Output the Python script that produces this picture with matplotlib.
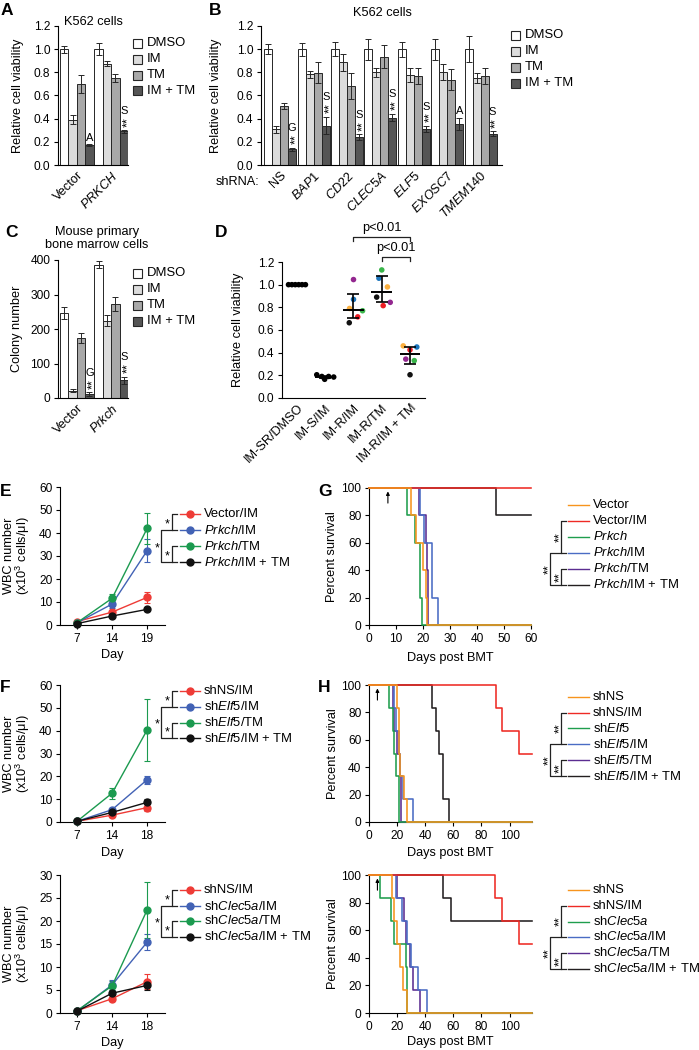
import numpy as np
import matplotlib
matplotlib.use('Agg')
import matplotlib.pyplot as plt
from matplotlib.lines import Line2D
from matplotlib.patches import Rectangle
from matplotlib.ticker import FormatStrFormatter

plt.rcParams['font.family'] = ['Liberation Sans', 'DejaVu Sans']
plt.rcParams['mathtext.fontset'] = 'custom'
plt.rcParams['mathtext.rm'] = 'Liberation Sans'
plt.rcParams['mathtext.it'] = 'Liberation Sans:italic'
plt.rcParams['mathtext.bf'] = 'Liberation Sans:bold'
plt.rcParams['axes.linewidth'] = 0.8

# ======================= DATA =======================
treatments = ['DMSO', 'IM', 'TM', 'IM + TM']

# Panel A
a_groups = ['Vector', r'$\mathit{PRKCH}$']
a_means = [[1.00, 0.39, 0.70, 0.17], [1.00, 0.875, 0.75, 0.29]]
a_errs = [[0.03, 0.04, 0.08, 0.01], [0.05, 0.02, 0.035, 0.01]]
a_letters = ['A', 'S']
a_stars = [0, 2]

# Panel B
b_groups = ['NS', r'$\mathit{BAP1}$', r'$\mathit{CD22}$', r'$\mathit{CLEC5A}$',
            r'$\mathit{ELF5}$', r'$\mathit{EXOSC7}$', r'$\mathit{TMEM140}$']
b_means = [[1.00, 0.31, 0.51, 0.135],
           [1.00, 0.785, 0.795, 0.34],
           [1.00, 0.885, 0.68, 0.24],
           [1.00, 0.80, 0.935, 0.41],
           [1.00, 0.775, 0.77, 0.31],
           [1.00, 0.80, 0.735, 0.355],
           [1.00, 0.75, 0.77, 0.27]]
b_errs = [[0.045, 0.03, 0.025, 0.015],
          [0.055, 0.03, 0.09, 0.075],
          [0.06, 0.07, 0.11, 0.025],
          [0.09, 0.04, 0.10, 0.03],
          [0.065, 0.06, 0.07, 0.025],
          [0.09, 0.07, 0.09, 0.055],
          [0.115, 0.04, 0.07, 0.02]]
b_letters = ['G', 'S', 'S', 'S', 'S', 'A', 'S']
b_stars = [2, 2, 2, 2, 2, 0, 2]

# Panel C
c_groups = ['Vector', r'$\mathit{Prkch}$']
c_means = [[247, 21, 173, 11], [386, 224, 273, 51]]
c_errs = [[17, 5, 14, 5], [10, 16, 21, 10]]
c_letters = ['G', 'S']
c_stars = [2, 2]

# Panel D
d_groups = ['IM-SR/DMSO', 'IM-S/IM', 'IM-R/IM', 'IM-R/TM', 'IM-R/IM + TM']
d_vals = [[1.0, 1.0, 1.0, 1.0, 1.0, 1.0],
          [0.205, 0.19, 0.165, 0.19, 0.185],
          [1.045, 0.87, 0.79, 0.77, 0.716, 0.664],
          [1.13, 1.057, 0.98, 0.89, 0.844, 0.815],
          [0.46, 0.45, 0.425, 0.343, 0.33, 0.205]]
d_mean = [1.0, 0.187, 0.777, 0.932, 0.384]
d_upper = [1.0, 0.197, 0.917, 1.075, 0.453]
d_lower = [1.0, 0.177, 0.704, 0.844, 0.296]
d_pvals = ['p<0.01', 'p<0.01']

# Panel E
e_days = ['7', '14', '19']
e_labels = ['Vector/IM', r'$\mathit{Prkch}$/IM', r'$\mathit{Prkch}$/TM', r'$\mathit{Prkch}$/IM + TM']
e_means = [[1.5, 5.6, 12.0], [1.0, 9.1, 32.3], [1.0, 11.6, 42.0], [0.6, 3.9, 6.8]]
e_errs = [[0.5, 0.8, 2.4], [0.4, 1.5, 5.0], [0.4, 2.0, 6.8], [0.3, 0.4, 0.8]]

# Panel F (top)
f1_days = ['7', '14', '18']
f1_labels = ['shNS/IM', r'sh$\mathit{Elf5}$/IM', r'sh$\mathit{Elf5}$/TM', r'sh$\mathit{Elf5}$/IM + TM']
f1_means = [[0.3, 3.0, 6.3], [0.3, 5.4, 18.5], [0.3, 12.6, 40.3], [0.3, 4.2, 8.6]]
f1_errs = [[0.2, 0.6, 1.6], [0.2, 0.8, 1.8], [0.2, 2.4, 13.5], [0.2, 0.5, 1.5]]

# Panel F (bottom)
f2_days = ['7', '14', '18']
f2_labels = ['shNS/IM', r'sh$\mathit{Clec5a}$/IM', r'sh$\mathit{Clec5a}$/TM', r'sh$\mathit{Clec5a}$/IM + TM']
f2_means = [[0.5, 3.1, 6.8], [0.4, 6.1, 15.4], [0.5, 5.9, 22.4], [0.4, 4.3, 6.0]]
f2_errs = [[0.2, 0.4, 1.6], [0.2, 1.0, 1.8], [0.2, 1.0, 6.0], [0.2, 0.4, 1.0]]

# Panel G survival (death days; n mice per group)
g_labels = ['Vector', 'Vector/IM', r'$\mathit{Prkch}$', r'$\mathit{Prkch}$/IM',
            r'$\mathit{Prkch}$/TM', r'$\mathit{Prkch}$/IM + TM']
g_n = [5, 5, 5, 5, 5, 5]
g_deaths = [[15.5, 17.5, 20, 21, 21.5],
            [],
            [14, 17, 19, 19, 19.5],
            [19, 20.5, 23.5, 23.5, 25.5],
            [18.5, 21, 21.5, 22, 22],
            [47]]
g_arrow_day = 7

# Panel H top
h1_labels = ['shNS', 'shNS/IM', r'sh$\mathit{Elf5}$', r'sh$\mathit{Elf5}$/IM',
             r'sh$\mathit{Elf5}$/TM', r'sh$\mathit{Elf5}$/IM + TM']
h1_n = [6, 6, 6, 6, 6, 6]
h1_deaths = [[20, 21, 21.5, 22, 25, 27],
             [90.5, 95, 107],
             [14.5, 17, 17.5, 19.5, 21, 21],
             [18, 19, 21, 22, 24, 31.5],
             [17, 18, 20, 22, 23, 23],
             [45, 48, 50, 53, 53, 57]]
h1_arrow_day = 6

# Panel H bottom
h2_labels = ['shNS', 'shNS/IM', r'sh$\mathit{Clec5a}$', r'sh$\mathit{Clec5a}$/IM',
             r'sh$\mathit{Clec5a}$/TM', r'sh$\mathit{Clec5a}$/IM + TM']
h2_n = [6, 6, 6, 6, 6, 6]
h2_deaths = [[16.5, 17.5, 20, 22, 24, 27],
             [90, 95, 107],
             [8, 16, 18, 26, 27, 27],
             [19, 23.5, 27, 30, 35, 41],
             [20, 25, 26, 29, 31, 36],
             [53, 58]]
h2_arrow_day = 6

# ======================= STYLE =======================
BAR_COLORS = ['#ffffff', '#dcdcdc', '#a8a8a8', '#555555']
EDGE = '#262626'
D_POINT_COLORS = [['k'] * 6, ['k'] * 5,
                  ['#93278f', '#1c75bc', '#fbb040', '#39b54a', '#ed1c24', '#111111'],
                  ['#39b54a', '#1c75bc', '#fbb040', '#111111', '#93278f', '#ed1c24'],
                  ['#fbb040', '#1c75bc', '#ed1c24', '#93278f', '#39b54a', '#111111']]
D_OFFSETS = [[-0.3, -0.18, -0.06, 0.06, 0.18, 0.3],
             [-0.3, -0.12, -0.02, 0.12, 0.3],
             [0.0, 0.0, -0.14, 0.32, 0.15, -0.15],
             [0.0, -0.1, 0.2, -0.18, 0.3, 0.05],
             [-0.24, 0.24, 0.0, -0.15, 0.15, 0.0]]
LINE_COLORS = ['#ee3b36', '#4262b5', '#1b9a4f', '#111111']
SURV_COLORS = ['#f7941d', '#ee2a24', '#1f9e4e', '#4a6cc4', '#5b2d91', '#231f20']

FS_TICK = 8.6
FS_LAB = 9.2
FS_LEG = 9.4
FS_ANN = 8.0
FS_STAR = 9.0

W, H = 699, 1050
fig = plt.figure(figsize=(W / 100, H / 100), dpi=100)
fig.patch.set_facecolor('white')
EM = 100 / 72.0


def fx(x):
    return x / W


def fy(y):
    return 1 - y / H


def px_axes(l, t, r, b):
    ax = fig.add_axes([fx(l), fy(b), (r - l) / W, (b - t) / H])
    ax.patch.set_alpha(0)
    for s in ['top', 'right']:
        ax.spines[s].set_visible(False)
    ax.tick_params(axis='both', direction='out', length=3, width=0.8,
                   labelsize=FS_TICK, pad=2.5)
    return ax


def set_ylab(ax, text, xc, l, r, ls=1.0):
    ax.set_ylabel(text, fontsize=FS_LAB, linespacing=ls, va='center')
    ax.yaxis.set_label_coords((xc - l) / (r - l), 0.5)


def set_xlab(ax, text, yc, t, b):
    ax.set_xlabel(text, fontsize=FS_LAB, va='center')
    ax.xaxis.set_label_coords(0.5, -(yc - b) / (b - t))


def panel_letter(x, y, s):
    fig.text(fx(x), fy(y), s, fontsize=12.5, fontweight='bold', ha='left', va='top')


def star_text(x, y, s, fs=FS_STAR, rot=0):
    # place glyph centre of asterisk(s) at pixel (x, y)
    off = 0.58 * fs * EM
    if rot == 0:
        fig.text(fx(x), fy(y + off), s, fontsize=fs, ha='center', va='baseline')
    else:
        fig.text(fx(x + off), fy(y), s, fontsize=fs, ha='center', va='baseline',
                 rotation=90, rotation_mode='anchor')


def bar_legend(x, ys, labels):
    for y, lab, c in zip(ys, labels, BAR_COLORS):
        fig.patches.append(Rectangle((fx(x), fy(y + 4.5)), 9 / W, 9 / H,
                                     transform=fig.transFigure, facecolor=c,
                                     edgecolor=EDGE, lw=0.8))
        fig.text(fx(x + 14), fy(y), lab, fontsize=FS_LEG, ha='left', va='center')


def line_legend(x0, x1, ys, labels, colors, marker):
    for y, lab, c in zip(ys, labels, colors):
        fig.add_artist(Line2D([fx(x0), fx(x1)], [fy(y), fy(y)], transform=fig.transFigure,
                              color=c, lw=1.0))
        if marker:
            fig.add_artist(Line2D([fx((x0 + x1) / 2)], [fy(y)], transform=fig.transFigure,
                                  color=c, marker='o', ms=5, lw=0))
        fig.text(fx(x1 + 4), fy(y), lab, fontsize=FS_LEG, ha='left', va='center')


def bracket(x, y0, y1, tick):
    xs = [x + tick, x, x, x + tick]
    ys = [y0, y0, y1, y1]
    fig.add_artist(Line2D([fx(v) for v in xs], [fy(v) for v in ys],
                          transform=fig.transFigure, color='#222222', lw=0.9))


def e_brackets(rows):
    bracket(172, rows[0], rows[1], 5)
    star_text(167.5, (rows[0] + rows[1]) / 2 - 2, '*')
    bracket(172, rows[2], rows[3], 5)
    star_text(167.5, (rows[2] + rows[3]) / 2 - 2, '*')
    bracket(161, rows[1], rows[3], 11)
    star_text(157, (rows[1] + rows[3]) / 2 - 2, '*')


def g_brackets(rows):
    bracket(561, rows[1], rows[3], 5)
    star_text(555.5, (rows[1] + rows[3]) / 2, '**', rot=90)
    bracket(561, rows[4], rows[5], 5)
    star_text(555.5, (rows[4] + rows[5]) / 2, '**', rot=90)
    bracket(550, rows[3], rows[5], 11)
    star_text(545, (rows[3] + rows[5]) / 2, '**', rot=90)


def draw_bars(ax, means, errs, pitch, letters, stars):
    for g in range(len(means)):
        xs = g * pitch + np.arange(len(treatments))
        ax.bar(xs, means[g], width=1.0, color=BAR_COLORS, edgecolor=EDGE, linewidth=0.7,
               yerr=errs[g], capsize=2.2,
               error_kw=dict(elinewidth=0.7, capthick=0.7, ecolor=EDGE), zorder=2)
        top = means[g][3] + errs[g][3]
        xi = xs[3]
        if stars[g]:
            ax.annotate('*' * stars[g], (xi, top), xytext=(0.325 * FS_STAR, 6.2),
                        textcoords='offset points', ha='center', va='center',
                        rotation=90, rotation_mode='anchor', fontsize=FS_STAR)
            off = 12.0
        else:
            off = 2.5
        ax.annotate(letters[g], (xi, top), xytext=(0, off), textcoords='offset points',
                    ha='center', va='baseline', fontsize=FS_ANN)
    ax.tick_params(axis='x', length=0, pad=3)


def km_curve(deaths, n, tmax):
    t = [0.0]
    s = [100.0]
    alive = n
    for d in sorted(deaths):
        alive -= 1
        t.append(d)
        s.append(100.0 * alive / n)
    t.append(tmax)
    s.append(s[-1])
    return t, s


def draw_surv(ax, deaths, ns, tmax, arrow_day):
    order = list(range(len(deaths)))[::-1]
    for i in order:
        t, s = km_curve(deaths[i], ns[i], tmax)
        ax.step(t, s, where='post', color=SURV_COLORS[i], lw=1.15, clip_on=False,
                zorder=2 + (5 - i))
    ax.set_xlim(0, tmax)
    ax.set_ylim(0, 100)
    ax.set_yticks(np.arange(0, 101, 20))
    ax.tick_params(axis='x', pad=3)
    ax.annotate('', xy=(arrow_day, 97.5), xytext=(arrow_day, 89),
                arrowprops=dict(arrowstyle='-|>', lw=0.8, color='k', mutation_scale=5,
                                shrinkA=0, shrinkB=0))


def draw_lines(ax, days, means, errs):
    x = np.arange(len(days))
    for m, e, c in zip(means, errs, LINE_COLORS):
        ax.errorbar(x, m, yerr=e, color=c, marker='o', ms=5, lw=1.0, elinewidth=0.8,
                    capsize=2.3, capthick=0.8, clip_on=False, zorder=3)
    ax.set_xticks(x)
    ax.set_xticklabels(days)
    ax.set_xlim(-0.486, 2.51)
    ax.tick_params(axis='x', pad=3)


# ======================= PANEL A =======================
l, t, r, b = 58, 26, 128, 165
axA = px_axes(l, t, r, b)
draw_bars(axA, a_means, a_errs, 4.1, a_letters, a_stars)
axA.set_xlim(-0.75, 7.6)
axA.set_ylim(0, 1.2)
axA.set_yticks(np.arange(0, 1.21, 0.2))
axA.yaxis.set_major_formatter(FormatStrFormatter('%.1f'))
axA.set_xticks([g * 4.1 + 1.5 for g in range(len(a_groups))])
axA.set_xticklabels(a_groups, rotation=45, ha='right', va='top', rotation_mode='anchor',
                    fontsize=FS_LAB)
set_ylab(axA, 'Relative cell viability', 18, l, r)
fig.text(fx(93), fy(22), 'K562 cells', fontsize=FS_LAB, ha='center', va='center')
bar_legend(133, [43, 59, 75, 91], treatments)
panel_letter(1, 3, 'A')

# ======================= PANEL B =======================
l, t, r, b = 261, 26, 502, 165
axB = px_axes(l, t, r, b)
draw_bars(axB, b_means, b_errs, 4.17, b_letters, b_stars)
axB.set_xlim(-0.91, 29.2)
axB.set_ylim(0, 1.2)
axB.set_yticks(np.arange(0, 1.21, 0.2))
axB.yaxis.set_major_formatter(FormatStrFormatter('%.1f'))
axB.set_xticks([g * 4.17 + 1.5 for g in range(len(b_groups))])
axB.set_xticklabels(b_groups, rotation=45, ha='right', va='top', rotation_mode='anchor',
                    fontsize=FS_LAB)
set_ylab(axB, 'Relative cell viability', 216, l, r)
fig.text(fx(382), fy(13), 'K562 cells', fontsize=FS_LAB, ha='center', va='center')
fig.text(fx(259), fy(182), 'shRNA:', fontsize=FS_LAB, ha='right', va='center')
bar_legend(511, [35, 51, 67, 83], treatments)
panel_letter(209, 3, 'B')

# ======================= PANEL C =======================
l, t, r, b = 58, 260, 128, 398
axC = px_axes(l, t, r, b)
draw_bars(axC, c_means, c_errs, 4.1, c_letters, c_stars)
axC.set_xlim(-0.75, 7.6)
axC.set_ylim(0, 400)
axC.set_yticks(np.arange(0, 401, 100))
axC.set_xticks([g * 4.1 + 1.5 for g in range(len(c_groups))])
axC.set_xticklabels(c_groups, rotation=45, ha='right', va='top', rotation_mode='anchor',
                    fontsize=FS_LAB)
set_ylab(axC, 'Colony number', 17, l, r)
fig.text(fx(97), fy(238.5), 'Mouse primary\nbone marrow cells', fontsize=FS_LAB,
         ha='center', va='center', linespacing=1.08)
bar_legend(133, [273, 289, 305, 321], treatments)
panel_letter(5, 225, 'C')

# ======================= PANEL D =======================
l, t, r, b = 282, 262, 425, 398
axD = px_axes(l, t, r, b)
for i in range(len(d_groups)):
    xs = i + np.array(D_OFFSETS[i])
    axD.scatter(xs, d_vals[i], s=16, c=D_POINT_COLORS[i], linewidths=0, zorder=3, clip_on=False)
    axD.hlines(d_mean[i], i - 0.37, i + 0.37, color='k', lw=1.4, zorder=4)
    if d_upper[i] > d_mean[i]:
        axD.errorbar([i], [d_mean[i]], yerr=[[d_mean[i] - d_lower[i]], [d_upper[i] - d_mean[i]]],
                     fmt='none', ecolor='k', elinewidth=1.2, capsize=4.6, capthick=1.2, zorder=4)
axD.set_xlim(-0.53, 4.53)
axD.set_ylim(0, 1.2)
axD.set_yticks(np.arange(0, 1.21, 0.2))
axD.yaxis.set_major_formatter(FormatStrFormatter('%.1f'))
axD.set_xticks(range(len(d_groups)))
axD.set_xticklabels(d_groups, rotation=45, ha='right', va='top', rotation_mode='anchor',
                    fontsize=FS_LAB)
axD.tick_params(axis='x', length=0, pad=3)
set_ylab(axD, 'Relative cell viability', 237.5, l, r)
# p-value brackets
axD.plot([2, 2, 4, 4], [1.385, 1.42, 1.42, 1.385], color='#222222', lw=0.9, clip_on=False)
axD.text(3, 1.5, d_pvals[0], fontsize=FS_LAB, ha='center', va='center')
axD.plot([3, 3, 4, 4], [1.21, 1.245, 1.245, 1.21], color='#222222', lw=0.9, clip_on=False)
axD.text(3.5, 1.325, d_pvals[1], fontsize=FS_LAB, ha='center', va='center')
panel_letter(215, 225, 'D')

# ======================= PANEL E =======================
l, t, r, b = 60, 487, 165, 625
axE = px_axes(l, t, r, b)
draw_lines(axE, e_days, e_means, e_errs)
axE.set_ylim(0, 60)
axE.set_yticks(np.arange(0, 61, 10))
set_ylab(axE, 'WBC number\n(x10$^3$ cells/μl)', 17.5, l, r, ls=0.95)
set_xlab(axE, 'Day', 655, t, b)
rows = [514, 530, 546, 562]
line_legend(180, 200, rows, e_labels, LINE_COLORS, True)
e_brackets(rows)
panel_letter(0, 484, 'E')

# ======================= PANEL G =======================
l, t, r, b = 369, 488, 531, 625
axG = px_axes(l, t, r, b)
draw_surv(axG, g_deaths, g_n, 60, g_arrow_day)
axG.set_xticks(np.arange(0, 61, 10))
set_ylab(axG, 'Percent survival', 332, l, r)
set_xlab(axG, 'Days post BMT', 658, t, b)
rows = [505, 521, 537, 553, 569, 585]
line_legend(568, 589, rows, g_labels, SURV_COLORS, False)
g_brackets(rows)
panel_letter(318, 484, 'G')

# ======================= PANEL F top =======================
l, t, r, b = 60, 685, 165, 822
axF1 = px_axes(l, t, r, b)
draw_lines(axF1, f1_days, f1_means, f1_errs)
axF1.set_ylim(0, 60)
axF1.set_yticks(np.arange(0, 61, 10))
set_ylab(axF1, 'WBC number\n(x10$^3$ cells/μl)', 17.5, l, r, ls=0.95)
set_xlab(axF1, 'Day', 853, t, b)
rows = [691, 707, 723, 738]
line_legend(180, 200, rows, f1_labels, LINE_COLORS, True)
e_brackets(rows)
panel_letter(0, 680, 'F')

# ======================= PANEL H top =======================
l, t, r, b = 369, 685, 532, 822
axH1 = px_axes(l, t, r, b)
draw_surv(axH1, h1_deaths, h1_n, 116, h1_arrow_day)
axH1.set_xticks(np.arange(0, 101, 20))
set_ylab(axH1, 'Percent survival', 333, l, r)
set_xlab(axH1, 'Days post BMT', 853, t, b)
rows = [697, 712.5, 728, 744, 760, 776]
line_legend(568, 589, rows, h1_labels, SURV_COLORS, False)
g_brackets(rows)
panel_letter(318, 680, 'H')

# ======================= PANEL F bottom =======================
l, t, r, b = 60, 875, 165, 1013
axF2 = px_axes(l, t, r, b)
draw_lines(axF2, f2_days, f2_means, f2_errs)
axF2.set_ylim(0, 30)
axF2.set_yticks(np.arange(0, 31, 5))
set_ylab(axF2, 'WBC number\n(x10$^3$ cells/μl)', 17.5, l, r, ls=0.95)
set_xlab(axF2, 'Day', 1043, t, b)
rows = [890, 906, 921, 937]
line_legend(180, 200, rows, f2_labels, LINE_COLORS, True)
e_brackets(rows)

# ======================= PANEL H bottom =======================
l, t, r, b = 369, 875, 532, 1013
axH2 = px_axes(l, t, r, b)
draw_surv(axH2, h2_deaths, h2_n, 116, h2_arrow_day)
axH2.set_xticks(np.arange(0, 101, 20))
set_ylab(axH2, 'Percent survival', 333, l, r)
set_xlab(axH2, 'Days post BMT', 1042, t, b)
rows = [890, 906, 921.5, 937, 953, 969]
line_legend(568, 589, rows, h2_labels, SURV_COLORS, False)
g_brackets(rows)

fig.savefig('out.png', dpi=100, facecolor='white')
